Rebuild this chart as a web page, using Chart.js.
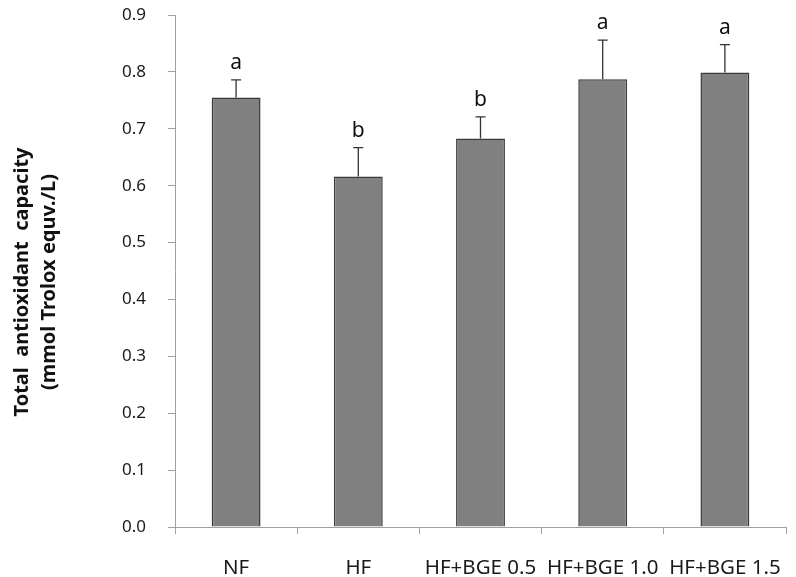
<!DOCTYPE html>
<html>
<head>
<meta charset="utf-8">
<script src="https://cdn.jsdelivr.net/npm/chart.js@4"></script>
<style>
html,body{margin:0;padding:0;background:#fff;}
#wrap{width:796px;height:577px;position:relative;}
</style>
</head>
<body>
<div id="wrap"><canvas id="c" width="796" height="577"></canvas></div>
<script>
const categories = ['NF', 'HF', 'HF+BGE 0.5', 'HF+BGE 1.0', 'HF+BGE 1.5'];
const means = [0.755, 0.616, 0.683, 0.787, 0.799];
const errors = [0.031, 0.051, 0.038, 0.069, 0.049];
const letters = ['a', 'b', 'b', 'a', 'a'];
const yTickValues = [0.0, 0.1, 0.2, 0.3, 0.4, 0.5, 0.6, 0.7, 0.8, 0.9];
const yTitle = ['Total  antioxidant  capacity', '(mmol Trolox equv./L)'];

const FONT = '"Noto Sans", "Open Sans", sans-serif';

const errorBarPlugin = {
  id: 'errorBars',
  afterDatasetsDraw(chart) {
    const ctx = chart.ctx;
    const meta = chart.getDatasetMeta(0);
    const ys = chart.scales.y;
    ctx.save();
    ctx.strokeStyle = '#333333';
    ctx.lineWidth = 1.3;
    meta.data.forEach((bar, i) => {
      const x = bar.x;
      const y0 = ys.getPixelForValue(means[i]);
      const y1 = ys.getPixelForValue(means[i] + errors[i]);
      ctx.beginPath();
      ctx.moveTo(x, y0);
      ctx.lineTo(x, y1);
      ctx.moveTo(x - 5, y1);
      ctx.lineTo(x + 5, y1);
      ctx.stroke();
      ctx.fillStyle = '#111111';
      ctx.font = '21px ' + FONT;
      ctx.textAlign = 'center';
      ctx.textBaseline = 'alphabetic';
      ctx.fillText(letters[i], x, y1 - 11);
    });
    ctx.restore();
  }
};

const titlePlugin = {
  id: 'yTitleDraw',
  afterDraw(chart) {
    const ctx = chart.ctx;
    ctx.save();
    ctx.fillStyle = '#111111';
    ctx.font = 'bold 20px ' + FONT;
    ctx.textAlign = 'center';
    ctx.textBaseline = 'middle';
    const cy = 282;
    const xs = [22, 49];
    yTitle.forEach((t, i) => {
      ctx.save();
      ctx.translate(xs[i], cy);
      ctx.rotate(-Math.PI / 2);
      ctx.fillText(t, 0, 0);
      ctx.restore();
    });
    ctx.restore();
  }
};

new Chart(document.getElementById('c'), {
  type: 'bar',
  data: {
    labels: categories,
    datasets: [{
      data: means,
      backgroundColor: '#808080',
      borderColor: '#3a3a3a',
      borderWidth: 1.5,
      categoryPercentage: 1.0,
      barPercentage: 0.4
    }]
  },
  options: {
    responsive: false,
    animation: false,
    devicePixelRatio: 1,
    layout: { padding: { top: 15, right: 10, left: 0, bottom: 0 } },
    plugins: { legend: { display: false }, tooltip: { enabled: false } },
    scales: {
      x: {
        offset: true,
        grid: { display: true, drawOnChartArea: false, drawTicks: true, tickLength: 7, color: '#a0a0a0', offset: true },
        border: { display: true, color: '#a0a0a0', width: 1 },
        ticks: { color: '#1a1a1a', font: { family: FONT, size: 20.5 }, padding: 22, maxRotation: 0, autoSkip: false },
        afterFit(s) { s.height = 50; s.paddingLeft = 0; s.paddingRight = 0; }
      },
      y: {
        min: 0, max: 0.9,
        afterBuildTicks(s) { s.ticks = yTickValues.map(v => ({ value: v })); },
        grid: { display: true, drawOnChartArea: false, drawTicks: true, tickLength: 7, color: '#a0a0a0' },
        border: { display: true, color: '#a0a0a0', width: 1 },
        ticks: {
          color: '#1a1a1a', font: { family: FONT, size: 17 }, padding: 22,
          callback: (v) => Number(v).toFixed(1)
        },
        title: { display: false },
        afterFit(s) { s.width = 175; s.paddingTop = 0; s.paddingBottom = 0; }
      }
    }
  },
  plugins: [errorBarPlugin, titlePlugin]
});
</script>
</body>
</html>
